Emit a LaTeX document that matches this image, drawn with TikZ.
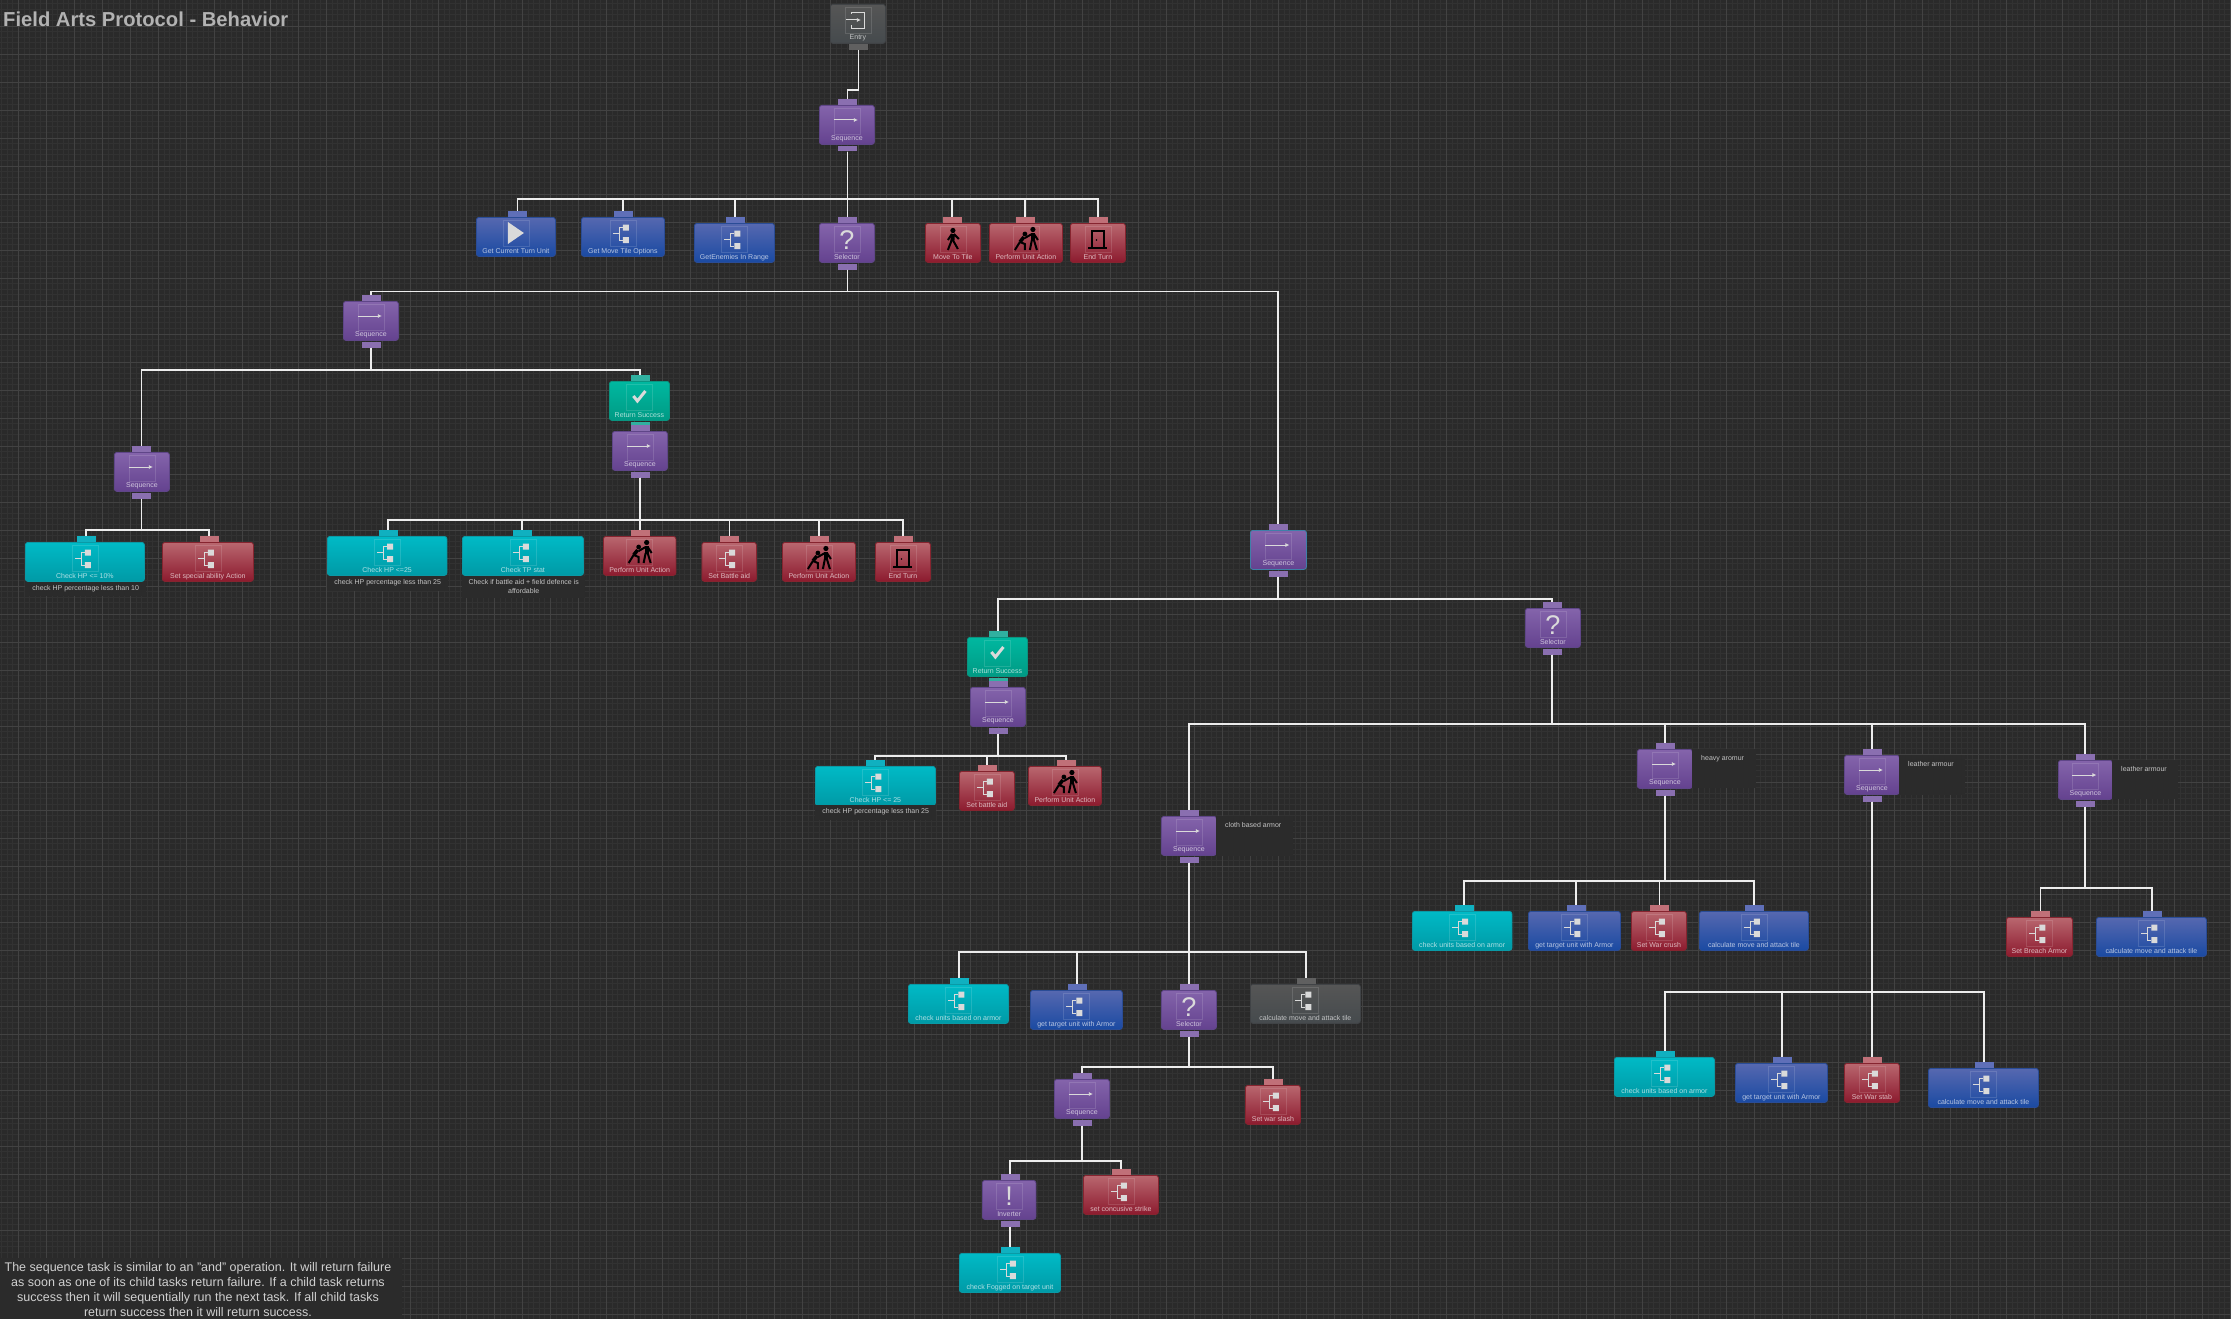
\documentclass[tikz,border=0pt]{standalone}
\usepackage{fontspec}
\setmainfont{Liberation Sans}
\usetikzlibrary{arrows.meta}
\definecolor{purpletop}{HTML}{8464AB}\definecolor{purplebot}{HTML}{64428F}\definecolor{purpletab}{HTML}{8A6FB0}\definecolor{purpleline}{HTML}{5F4688}
\definecolor{pickedtop}{HTML}{8464AB}\definecolor{pickedbot}{HTML}{64428F}\definecolor{pickedtab}{HTML}{8A6FB0}\definecolor{pickedline}{HTML}{3F80A8}
\definecolor{bluetop}{HTML}{5668B0}\definecolor{bluebot}{HTML}{1A4AA2}\definecolor{bluetab}{HTML}{5F6FB8}\definecolor{blueline}{HTML}{2A4C96}
\definecolor{cyantop}{HTML}{00BAC6}\definecolor{cyanbot}{HTML}{009AA6}\definecolor{cyantab}{HTML}{10B0C0}\definecolor{cyanline}{HTML}{0A9AA6}
\definecolor{redtop}{HTML}{B9676F}\definecolor{redbot}{HTML}{8C1A2E}\definecolor{redtab}{HTML}{C07078}\definecolor{redline}{HTML}{86242F}
\definecolor{greentop}{HTML}{00B8A0}\definecolor{greenbot}{HTML}{009A84}\definecolor{greentab}{HTML}{30B0A0}\definecolor{greenline}{HTML}{0A9480}
\definecolor{greytop}{HTML}{565656}\definecolor{greybot}{HTML}{454A4D}\definecolor{greytab}{HTML}{606060}\definecolor{greyline}{HTML}{404346}
\definecolor{canvasbg}{HTML}{2A2A2A}\definecolor{gridminor}{HTML}{323232}\definecolor{gridmajor}{HTML}{424242}
\definecolor{notebg}{HTML}{2B2B2B}\definecolor{icongrey}{HTML}{DADADA}
\tikzset{
  taskbox/.style={rectangle,rounded corners=2.5pt,inner sep=0pt,minimum height=39pt,line width=0.8pt},
  tasktab/.style={rectangle,inner sep=0pt,minimum width=19pt,minimum height=5.5pt},
  tasklabel/.style={text=white,text opacity=.68,inner sep=0pt,font=\fontsize{7}{8}\selectfont},
  iconframe/.style={draw=white,draw opacity=.13,line width=.5pt},
  wire/.style={draw=white!93!black,line width=1.4pt},
  notebox/.style={rectangle,fill=notebg,inner sep=0pt},
  notetext/.style={text=white,text opacity=.72,align=center,inner xsep=9pt,inner ysep=3pt,font=\fontsize{7}{9.5}\selectfont},
  note north/.style={},
  note north west/.style={yshift=-3pt},
  pics/arrowicon/.style={code={\draw[icongrey,line width=1pt,-{Latex[length=4pt,width=4pt]}] (-13,-1) -- (11,-1);}},
  pics/asking/.style={code={\node[text=icongrey,inner sep=0pt,font=\fontsize{27}{27}\selectfont] (#1) at (0,1.5) {?};}},
  pics/noting/.style={code={\node[text=icongrey,inner sep=0pt,font=\fontsize{27}{27}\selectfont] (#1) at (0,0) {!};}},
  pics/playicon/.style={code={\fill[icongrey] (-8,-11) -- (8,0) -- (-8,11) -- cycle;}},
  pics/checkicon/.style={code={\draw[icongrey,line width=3pt] (-6,-1) -- (-2,4) -- (6,-6);}},
  pics/treeicon/.style={code={
    \draw[icongrey,line width=.8pt] (-10,0) -- (-4,0) (0,-5.3) -- (-4,-5.3) -- (-4,7) -- (0,7);
    \fill[icongrey] (0,-8.3) rectangle (6,-2.3) (0,4) rectangle (6,10);}},
  pics/entryicon/.style={code={
    \draw[icongrey,line width=.9pt] (-6,-6) -- (-6,-8) -- (7,-8) -- (7,8) -- (-6,8) -- (-6,5);
    \draw[icongrey,line width=1pt,-{Latex[length=4pt,width=4pt]}] (-12,0) -- (3,0);}},
  pics/walkicon/.style={code={
    \fill[black] (0,-8.5) circle (2.6);
    \draw[black,line width=4pt] (0,-5) -- (-0.5,2);
    \draw[black,line width=2pt] (-1.5,2) -- (-5,11) (0.5,2) -- (5,10) (-1,-5) -- (-5,1) (1,-5) -- (6,0);}},
  pics/pairicon/.style={code={
    \fill[black] (7,-9.5) circle (2.6) (-1,-5) circle (2.4);
    \draw[black,line width=4pt] (7,-6) -- (7,1);
    \draw[black,line width=3.5pt] (-2,-2) -- (-6,3);
    \draw[black,line width=2pt] (6,1) -- (4,11) (8,1) -- (11,11) (8,-5) -- (12,1) (6,-5) -- (-1,-1) (-6,3) -- (-11,11) (-6,3) -- (-1,5) -- (-1,11);}},
  pics/dooricon/.style={code={
    \draw[black,line width=1.8pt] (-6,9) -- (-6,-8) -- (6,-8) -- (6,9);
    \draw[black,line width=2pt] (-9.5,9) -- (9.5,9);
    \fill[black] (-1.5,1) circle (.9);}},
}
% name, kind, left, right, top, tab x, icon, label
\newcommand{\tasknode}[8]{
  \node[taskbox,draw=#2line,top color=#2top,bottom color=#2bot,minimum width={(#4-#3)*1pt},anchor=north west] (#1) at (#3,#5) {};
  \node[tasktab,fill=#2tab,anchor=south] (#1-in) at (#6,#5) {};
  \node[iconframe,rectangle,inner sep=0pt,minimum size=26pt,yshift=-16pt] (#1-frame) at (#1.north) {};
  \pic at (#1-frame.center) {#7};
  \node[tasklabel,yshift=-34.2pt] (#1-label) at (#1.north) {#8};
}
\newcommand{\taskout}[2]{
  \node[tasktab,fill=#2tab,anchor=north,yshift=-1pt] (#1-out) at (#1.south -| #1-in) {};
}
% name, left, top, width, height, anchor of the text, text
\newcommand{\tasknote}[7]{
  \node[notebox,minimum width=#4pt,minimum height=#5pt,anchor=north west] (#1) at (#2,#3) {};
  \node[notetext,note #6,anchor=#6] (#1-text) at (#1.#6) {#7};
}
\newcommand{\treelink}[3]{
  \coordinate (#1-bus) at (0,#2);
  \foreach \kid in {#3}
    \draw[wire] (#1-out.south) -- (#1-out.south |- #1-bus) -| (\kid-in.north);
}
\begin{document}
\begin{tikzpicture}[x=1pt,y=-1pt]
  \useasboundingbox (0,0) rectangle (2231,1319);
  \fill[canvasbg] (0,0) rectangle (2231,1319);
  \foreach \gx in {-9.7,-4.1,...,2231} \draw[gridminor,line width=.8pt] (\gx,0) -- (\gx,1319);
  \foreach \gy in {-2,3.6,...,1319} \draw[gridminor,line width=.8pt] (0,\gy) -- (2231,\gy);
  \foreach \gx in {-9.7,18.3,...,2231} \draw[gridmajor,line width=.9pt] (\gx,0) -- (\gx,1319);
  \foreach \gy in {-2,26,...,1319} \draw[gridmajor,line width=.9pt] (0,\gy) -- (2231,\gy);

  \node[text=white!70!black,anchor=west,inner sep=0pt,font=\fontsize{20.2}{22}\selectfont\bfseries] (title) at (3,19) {Field Arts Protocol - Behavior};

  % entry
  \node[taskbox,draw=greyline,top color=greytop,bottom color=greybot,minimum width=55pt,anchor=north west] (entry) at (830,4) {};
  \node[iconframe,rectangle,inner sep=0pt,minimum size=26pt,yshift=-16pt] (entry-frame) at (entry.north) {};
  \pic at (entry-frame.center) {entryicon};
  \node[tasklabel,yshift=-34.2pt] (entry-label) at (entry.north) {Entry};
  \node[tasktab,fill=greytab,anchor=north,yshift=-1pt] (entry-out) at (858.5,43) {};

  % top row
  \tasknode{seqRoot}{purple}{819}{874}{105}{847.5}{arrowicon}{Sequence}\taskout{seqRoot}{purple}
  \tasknode{getTurn}{blue}{476}{555}{217}{517.5}{playicon}{Get Current Turn Unit}
  \tasknode{getMove}{blue}{581}{664}{217}{623}{treeicon}{Get Move Tile Options}
  \tasknode{getEnemies}{blue}{694}{774}{223}{735}{treeicon}{GetEnemies In Range}
  \tasknode{selRoot}{purple}{819}{874}{223}{847.5}{asking}{Selector}\taskout{selRoot}{purple}
  \tasknode{moveTile}{red}{925}{980}{223}{952}{walkicon}{Move To Tile}
  \tasknode{doAction}{red}{989}{1062}{223}{1025}{pairicon}{Perform Unit Action}
  \tasknode{endTurn}{red}{1070}{1125}{223}{1098}{dooricon}{End Turn}

  % low hp branch
  \tasknode{seqHeal}{purple}{343}{398}{301}{371}{arrowicon}{Sequence}\taskout{seqHeal}{purple}
  \tasknode{seqTen}{purple}{114}{169}{452}{141.5}{arrowicon}{Sequence}\taskout{seqTen}{purple}
  \tasknode{checkTen}{cyan}{25}{144}{542}{86}{treeicon}{Check HP <= 10\%}
  \tasknode{setSpecial}{red}{162}{253}{542}{209}{treeicon}{Set special ability Action}
  \tasknote{noteTen}{25}{582}{121}{14}{north}{check HP percentage less than 10}

  \tasknode{retHeal}{green}{609}{669}{381}{640}{checkicon}{Return Success}\taskout{retHeal}{green}
  \tasknode{seqAid}{purple}{612}{667}{431}{640}{arrowicon}{Sequence}\taskout{seqAid}{purple}
  \tasknode{checkAid}{cyan}{327}{446.5}{536}{388}{treeicon}{Check HP <=25}
  \tasknode{checkTp}{cyan}{462}{583}{536}{522}{treeicon}{Check TP stat}
  \tasknode{aidAction}{red}{603}{675.5}{536}{640}{pairicon}{Perform Unit Action}
  \tasknode{setAid}{red}{701.5}{756}{542}{729.5}{treeicon}{Set Battle aid}
  \tasknode{aidActionB}{red}{782}{855}{542}{819}{pairicon}{Perform Unit Action}
  \tasknode{aidEnd}{red}{875}{930}{542}{903}{dooricon}{End Turn}
  \tasknote{noteAid}{327}{576}{121}{15}{north}{check HP percentage less than 25}
  \tasknote{noteTp}{462}{576}{123}{22}{north}{Check if battle aid + field defence is\\affordable}

  % attack branch
  \tasknode{seqFight}{picked}{1250}{1306}{530}{1278}{arrowicon}{Sequence}\taskout{seqFight}{picked}
  \tasknode{retFight}{green}{967}{1027}{637}{998}{checkicon}{Return Success}\taskout{retFight}{green}
  \tasknode{seqBattle}{purple}{970}{1025}{687}{998}{arrowicon}{Sequence}\taskout{seqBattle}{purple}
  \tasknode{checkBattle}{cyan}{815}{935}{766}{875}{treeicon}{Check HP <= 25}
  \tasknode{setBattle}{red}{959}{1014}{771}{987}{treeicon}{Set battle aid}
  \tasknode{battleAction}{red}{1028}{1101}{766}{1066}{pairicon}{Perform Unit Action}
  \tasknote{noteBattle}{815}{805}{121}{15}{north}{check HP percentage less than 25}
  \tasknode{selArmor}{purple}{1525}{1580}{608}{1552}{asking}{Selector}\taskout{selArmor}{purple}

  % cloth
  \tasknode{seqCloth}{purple}{1161}{1216}{816}{1189}{arrowicon}{Sequence}\taskout{seqCloth}{purple}
  \tasknote{noteCloth}{1216}{816}{77}{40}{north west}{cloth based armor}
  \tasknode{checkCloth}{cyan}{908}{1008}{984}{959}{treeicon}{check units based on armor}
  \tasknode{getCloth}{blue}{1030}{1122}{990}{1077}{treeicon}{get target unit with Armor}
  \tasknode{selCloth}{purple}{1161}{1216}{990}{1189}{asking}{Selector}\taskout{selCloth}{purple}
  \tasknode{calcCloth}{grey}{1250}{1360}{984}{1306}{treeicon}{calculate move and attack tile}
  \tasknode{seqSlash}{purple}{1054}{1109}{1079}{1082}{arrowicon}{Sequence}\taskout{seqSlash}{purple}
  \tasknode{setSlash}{red}{1245}{1300}{1085}{1273}{treeicon}{Set war slash}
  \tasknode{invFog}{purple}{982}{1035.5}{1180}{1010}{noting}{Inverter}\taskout{invFog}{purple}
  \tasknode{setStrike}{red}{1083}{1158}{1175}{1121}{treeicon}{set concusive strike}
  \tasknode{checkFog}{cyan}{959}{1060}{1253}{1010}{treeicon}{check Fogged on target unit}

  % heavy
  \tasknode{seqHeavy}{purple}{1637}{1692}{749}{1665}{arrowicon}{Sequence}\taskout{seqHeavy}{purple}
  \tasknote{noteHeavy}{1692}{749}{64}{39}{north west}{heavy aromur}
  \tasknode{checkHeavy}{cyan}{1412}{1511.5}{911}{1464}{treeicon}{check units based on armor}
  \tasknode{getHeavy}{blue}{1528}{1620}{911}{1576}{treeicon}{get target unit with Armor}
  \tasknode{setCrush}{red}{1631}{1686}{911}{1659.5}{treeicon}{Set War crush}
  \tasknode{calcHeavy}{blue}{1699}{1808}{911}{1754}{treeicon}{calculate move and attack tile}

  % leather
  \tasknode{seqLeather}{purple}{1844}{1899}{755}{1872}{arrowicon}{Sequence}\taskout{seqLeather}{purple}
  \tasknote{noteLeather}{1899}{755}{66}{40}{north west}{leather armour}
  \tasknode{checkLeather}{cyan}{1614}{1714}{1057}{1665}{treeicon}{check units based on armor}
  \tasknode{getLeather}{blue}{1735}{1827}{1063}{1782}{treeicon}{get target unit with Armor}
  \tasknode{setStab}{red}{1844}{1899}{1063}{1872}{treeicon}{Set War stab}
  \tasknode{calcLeather}{blue}{1928}{2038}{1068}{1984}{treeicon}{calculate move and attack tile}

  % breach
  \tasknode{seqBreach}{purple}{2058}{2112}{760}{2085}{arrowicon}{Sequence}\taskout{seqBreach}{purple}
  \tasknote{noteBreach}{2112}{760}{66}{39}{north west}{leather armour}
  \tasknode{setBreach}{red}{2006}{2072}{917}{2040.5}{treeicon}{Set Breach Armor}
  \tasknode{calcBreach}{blue}{2096}{2206}{917}{2152}{treeicon}{calculate move and attack tile}

  % connectors
  \treelink{entry}{90}{seqRoot}
  \treelink{seqRoot}{199}{getTurn,getMove,getEnemies,selRoot,moveTile,doAction,endTurn}
  \treelink{selRoot}{291.5}{seqHeal,seqFight}
  \treelink{seqHeal}{370}{seqTen,retHeal}
  \treelink{seqTen}{530}{checkTen,setSpecial}
  \treelink{seqAid}{520}{checkAid,checkTp,aidAction,setAid,aidActionB,aidEnd}
  \treelink{seqFight}{599}{retFight,selArmor}
  \treelink{seqBattle}{756}{checkBattle,setBattle,battleAction}
  \treelink{selArmor}{724}{seqCloth,seqHeavy,seqLeather,seqBreach}
  \treelink{seqCloth}{952}{checkCloth,getCloth,selCloth,calcCloth}
  \treelink{selCloth}{1067}{seqSlash,setSlash}
  \treelink{seqSlash}{1161}{invFog,setStrike}
  \treelink{invFog}{1240}{checkFog}
  \treelink{seqHeavy}{881}{checkHeavy,getHeavy,setCrush,calcHeavy}
  \treelink{seqLeather}{992}{checkLeather,getLeather,setStab,calcLeather}
  \treelink{seqBreach}{888}{setBreach,calcBreach}

  % description
  \node[notebox,minimum width=402pt,minimum height=61pt,anchor=north west] (about) at (0,1258) {};
  \node[text=white,text opacity=.78,align=center,inner sep=0pt,font=\fontsize{12.5}{15}\selectfont] (about-text) at (198,1289.5) {The sequence task is similar to an "and" operation. It will return failure\\as soon as one of its child tasks return failure. If a child task returns\\success then it will sequentially run the next task. If all child tasks\\return success then it will return success.};
\end{tikzpicture}
\end{document}
